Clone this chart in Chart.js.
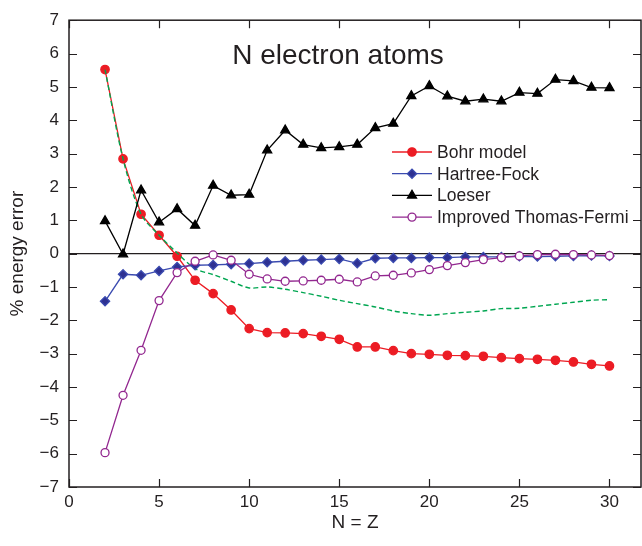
<!DOCTYPE html>
<html>
<head>
<meta charset="utf-8">
<script src="https://cdn.jsdelivr.net/npm/chart.js@4/dist/chart.umd.min.js"></script>
<style>
    html, body { margin: 0; padding: 0; background: #fff; overflow: hidden; }
    #wrap { width: 642px; height: 546px; position: relative; }
    #chart { display: block; }
</style>
</head>
<body>
<div id="wrap"><canvas id="chart"></canvas></div>
<script>
// N = Z values
var nValues = [2, 3, 4, 5, 6, 7, 8, 9, 10, 11, 12, 13, 14, 15, 16, 17, 18, 19, 20, 21, 22, 23, 24, 25, 26, 27, 28, 29, 30];

var bohr = [5.52, 2.84, 1.18, 0.55, -0.08, -0.8, -1.2, -1.69, -2.25, -2.37, -2.38, -2.4, -2.48, -2.57, -2.8,
    -2.8, -2.91, -3.0, -3.02, -3.05, -3.06, -3.08, -3.12, -3.15, -3.17, -3.2, -3.25, -3.32, -3.37];
var hartreeFock = [-1.43, -0.62, -0.65, -0.52, -0.4, -0.35, -0.34, -0.32, -0.3, -0.26, -0.23, -0.2, -0.18, -0.16, -0.29,
    -0.14, -0.13, -0.13, -0.12, -0.12, -0.1, -0.1, -0.1, -0.08, -0.09, -0.08, -0.07, -0.06, -0.07];
var loeser = [0.98, -0.02, 1.9, 0.94, 1.34, 0.84, 2.04, 1.75, 1.77, 3.1, 3.7, 3.27, 3.17, 3.2, 3.27,
    3.77, 3.9, 4.73, 5.03, 4.72, 4.57, 4.63, 4.57, 4.83, 4.8, 5.22, 5.18, 4.98, 4.97];
var thomasFermi = [-5.97, -4.25, -2.9, -1.41, -0.57, -0.23, -0.04, -0.2, -0.62, -0.76, -0.83, -0.82, -0.8, -0.77, -0.85,
    -0.67, -0.65, -0.58, -0.48, -0.36, -0.27, -0.18, -0.12, -0.07, -0.03, -0.02, -0.03, -0.04, -0.06];
// dashed green curve (not in the legend)
var dashedCurve = [5.52, 2.84, 1.18, 0.55, 0.02, -0.45, -0.63, -0.83, -1.03, -1.0, -1.07, -1.17, -1.28, -1.4, -1.5,
    -1.6, -1.72, -1.8, -1.85, -1.8, -1.76, -1.72, -1.65, -1.64, -1.58, -1.52, -1.46, -1.4, -1.38];

var xTicks = [0, 5, 10, 15, 20, 25, 30];
var yTicks = [-7, -6, -5, -4, -3, -2, -1, 0, 1, 2, 3, 4, 5, 6, 7];

var FONT = '"Liberation Sans", Arial, Helvetica, sans-serif';
var RED = '#ec1c24';
var BLUE = '#2e3192';
var BLUE_LINE = '#3b4bb0';
var PURPLE = '#92278f';
var GREEN = '#00a651';
var INK = '#231f20';

function toPoints(values) {
    return values.map(function (v, i) { return { x: nValues[i], y: v }; });
}

var legendItems = [
    { label: 'Bohr model', color: RED, fill: RED, style: 'circle', radius: 4.2 },
    { label: 'Hartree-Fock', color: BLUE_LINE, fill: BLUE, style: 'rectRot', radius: 4.6 },
    { label: 'Loeser', color: '#000', fill: '#000', style: 'triangle', radius: 5.2 },
    { label: 'Improved Thomas-Fermi', color: PURPLE, fill: '#fff', style: 'circle', radius: 4 }
];

var framePlugin = {
    id: 'frame',
    beforeDatasetsDraw: function (chart) {
        var ctx = chart.ctx;
        var area = chart.chartArea;
        var y0 = chart.scales.y.getPixelForValue(0);
        ctx.save();
        ctx.strokeStyle = INK;
        ctx.lineWidth = 1.4;
        ctx.beginPath();
        ctx.moveTo(area.left, y0);
        ctx.lineTo(area.right, y0);
        ctx.stroke();
        ctx.restore();
    },
    afterDraw: function (chart) {
        var ctx = chart.ctx;
        var area = chart.chartArea;
        var xs = chart.scales.x;
        var ys = chart.scales.y;
        var len = 8;
        ctx.save();
        ctx.strokeStyle = INK;
        ctx.lineWidth = 1.5;
        ctx.strokeRect(area.left, area.top, area.right - area.left, area.bottom - area.top);
        ctx.lineWidth = 1.2;
        ctx.beginPath();
        xTicks.forEach(function (v) {
            var px = Math.round(xs.getPixelForValue(v)) + 0.5;
            ctx.moveTo(px, area.bottom);
            ctx.lineTo(px, area.bottom - len);
            ctx.moveTo(px, area.top);
            ctx.lineTo(px, area.top + len);
        });
        yTicks.forEach(function (v) {
            var py = Math.round(ys.getPixelForValue(v)) + 0.5;
            ctx.moveTo(area.left, py);
            ctx.lineTo(area.left + len, py);
            ctx.moveTo(area.right, py);
            ctx.lineTo(area.right - len, py);
        });
        ctx.stroke();

        // title inside the plot
        ctx.fillStyle = INK;
        ctx.font = '28px ' + FONT;
        ctx.textAlign = 'center';
        ctx.textBaseline = 'alphabetic';
        ctx.fillText('N electron atoms', 338, 64);

        // legend with line + marker samples
        ctx.font = '17.5px ' + FONT;
        ctx.textAlign = 'left';
        ctx.textBaseline = 'middle';
        legendItems.forEach(function (item, i) {
            var y = 152 + i * 21.7;
            ctx.strokeStyle = item.color;
            ctx.lineWidth = 1.3;
            ctx.beginPath();
            ctx.moveTo(392, y);
            ctx.lineTo(432, y);
            ctx.stroke();
            ctx.fillStyle = item.fill;
            ctx.strokeStyle = item.color;
            ctx.lineWidth = 1.3;
            Chart.helpers.drawPoint(ctx, {
                pointStyle: item.style,
                radius: item.radius,
                rotation: 0,
                borderWidth: 1.3
            }, 412, y);
            ctx.fillStyle = INK;
            ctx.fillText(item.label, 437, y + 1);
        });
        ctx.restore();
    }
};

function seriesDataset(label, values, color, fill, style, radius, order) {
    return {
        label: label,
        data: toPoints(values),
        borderColor: color,
        backgroundColor: fill,
        pointBackgroundColor: fill,
        pointBorderColor: color,
        pointStyle: style,
        pointRadius: radius,
        pointBorderWidth: 1.3,
        borderWidth: 1.3,
        tension: 0,
        order: order
    };
}

var datasets = [
    seriesDataset('Bohr model', bohr, RED, RED, 'circle', 4.2, 4),
    seriesDataset('Hartree-Fock', hartreeFock, BLUE_LINE, BLUE, 'rectRot', 4.6, 2),
    seriesDataset('Loeser', loeser, '#000', '#000', 'triangle', 5.2, 1),
    seriesDataset('Improved Thomas-Fermi', thomasFermi, PURPLE, '#fff', 'circle', 4, 0),
    {
        label: 'dashed',
        data: toPoints(dashedCurve),
        borderColor: GREEN,
        borderDash: [5, 3],
        borderWidth: 1.4,
        pointRadius: 0,
        tension: 0.3,
        order: 3
    }
];

new Chart(document.getElementById('chart'), {
    type: 'line',
    data: { datasets: datasets },
    options: {
        responsive: true,
        maintainAspectRatio: false,
        animation: false,
        events: [],
        layout: { autoPadding: false, padding: { top: 20, right: 1, left: 0, bottom: 0 } },
        plugins: {
            legend: { display: false },
            tooltip: { enabled: false }
        },
        scales: {
            x: {
                type: 'linear',
                min: 0,
                max: 31.75,
                grid: { display: false, drawTicks: false },
                border: { display: false },
                afterBuildTicks: function (scale) {
                    scale.ticks = xTicks.map(function (v) { return { value: v }; });
                },
                afterFit: function (scale) {
                    scale.height = 59;
                    scale.paddingRight = 0;
                    scale.paddingLeft = 0;
                },
                ticks: {
                    padding: 5,
                    maxRotation: 0,
                    autoSkip: false,
                    color: INK,
                    font: { family: FONT, size: 17 }
                },
                title: {
                    display: true,
                    text: 'N = Z',
                    color: INK,
                    padding: { top: 0, bottom: 12 },
                    font: { family: FONT, size: 19 }
                }
            },
            y: {
                min: -7,
                max: 7,
                grid: { display: false, drawTicks: false },
                border: { display: false },
                afterBuildTicks: function (scale) {
                    scale.ticks = yTicks.map(function (v) { return { value: v }; });
                },
                afterFit: function (scale) { scale.width = 69; },
                ticks: {
                    padding: 10,
                    autoSkip: false,
                    color: INK,
                    font: { family: FONT, size: 17 },
                    callback: function (v) { return v < 0 ? '\u2212' + Math.abs(v) : String(v); }
                },
                title: {
                    display: true,
                    text: '% energy error',
                    color: INK,
                    padding: { top: 6, bottom: 0 },
                    font: { family: FONT, size: 19 }
                }
            }
        }
    },
    plugins: [framePlugin]
});
</script>
</body>
</html>
